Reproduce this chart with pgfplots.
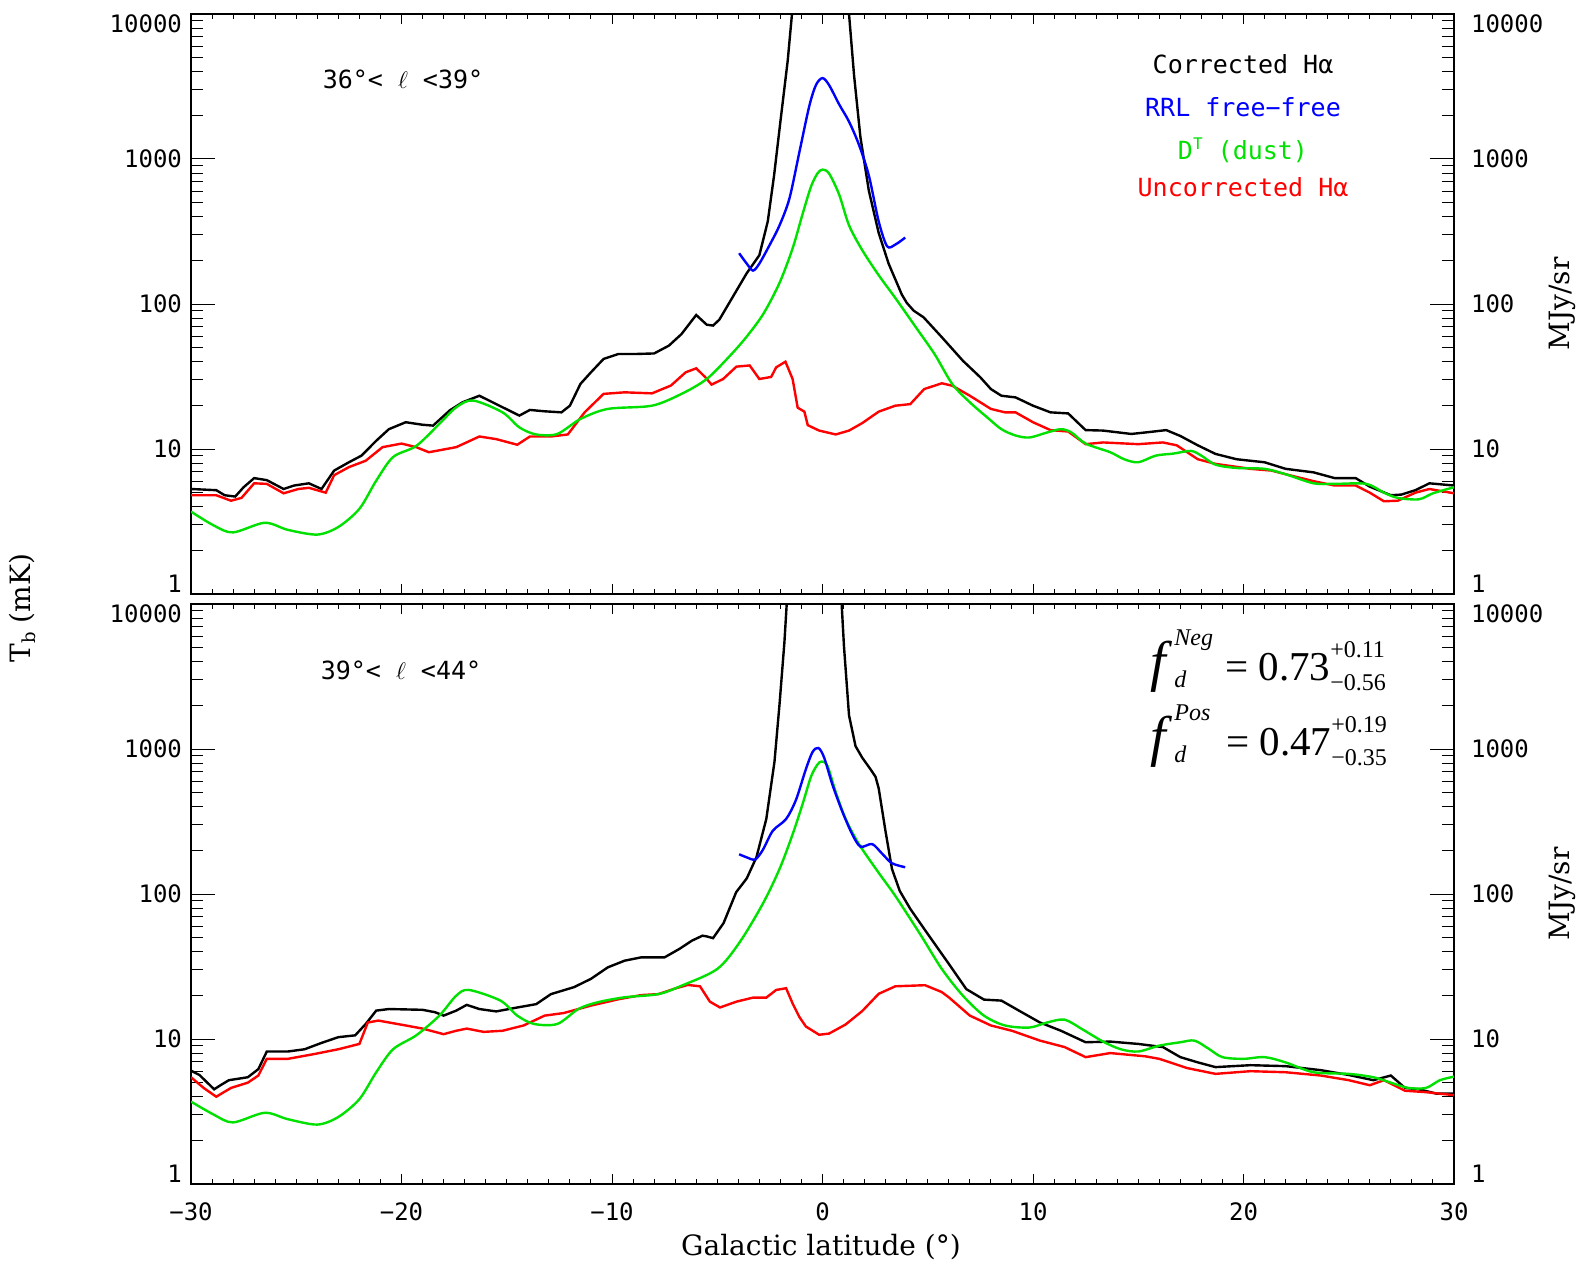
\documentclass[border=0pt]{standalone}
\usepackage{pgfplots}
\pgfplotsset{compat=1.18}
\usepackage{fontspec}
\setmainfont{DejaVu Sans Mono}
\newfontfamily\serifl{DejaVu Serif}
\newfontfamily\timesf{Liberation Serif}
\definecolor{cblue}{RGB}{0,0,255}
\definecolor{cgreen}{RGB}{0,225,0}
\definecolor{cred}{RGB}{255,0,0}
\newsavebox\supb
\newsavebox\subb
% #1 raise of sup, #2 sup, #3 drop of sub, #4 sub, #5 total width
\newcommand\supsub[5]{\sbox\supb{#2}\sbox\subb{#4}\rlap{\raisebox{#1}{\usebox\supb}}\rlap{\raisebox{-#3}{\usebox\subb}}\kern#5}
\newcommand\scr{\fontsize{12}{13}\selectfont}
\newcommand\tl{\fontsize{12}{14}\selectfont}
\pgfplotsset{
  every axis/.append style={
  scale only axis, width=631.5pt, height=290pt,
  xmin=-30, xmax=30, ymin=1, ymax=10000,
  clip mode=individual,
  xtick={-30,-20,...,30}, minor x tick num=9,
  ytick={1,10,100,1000,10000},
  minor ytick={2,3,4,5,6,7,8,9,20,30,40,50,60,70,80,90,200,300,400,500,600,700,800,900,2000,3000,4000,5000,6000,7000,8000,9000},
  yticklabels={\raisebox{5pt}[\height][\depth]{1},10,100,1000,\raisebox{-5pt}[\height][\depth]{10000}},
  xtick pos=both, ytick pos=both, xticklabel pos=lower, yticklabel pos=left,
  tick align=inside,
  axis line style={line width=0.7pt},
  every tick/.style={line width=0.5pt, black},
  yticklabel style={font=\tl, xshift=-1pt},
  xticklabel style={font=\tl, yshift=-6pt},
  every axis plot/.append style={line width=1.2pt},
  }
}
\begin{document}
\begin{tikzpicture}
\useasboundingbox (0pt,0pt) rectangle (790pt,-631pt);
% ---------------- top panel
\begin{semilogyaxis}[at={(95.5pt,-7pt)}, anchor=north west, xticklabels={},
  xtick style={/pgfplots/major tick length=5pt,/pgfplots/minor tick length=2.5pt},
  ytick style={/pgfplots/major tick length=12pt,/pgfplots/minor tick length=6pt}]
\addplot[black, sharp plot] coordinates {
(-30,5.3) (-28.8,5.2) (-28.4,4.8) (-27.9,4.7) (-27.5,5.45) (-27.0,6.3) (-26.4,6.1) (-25.6,5.3) (-25.1,5.6) (-24.4,5.8) (-23.8,5.3) (-23.2,7.1) (-22.5,8.1) (-21.9,9.0) (-21.2,11.4) (-20.6,13.7) (-19.8,15.3) (-19.0,14.7) (-18.5,14.5) (-17.7,18.5) (-17.1,21.0) (-16.3,23.3) (-15.5,20.4) (-14.4,17.0) (-13.9,18.6) (-13.2,18.2) (-12.4,17.9) (-12.0,19.9) (-11.5,28.1) (-11.0,33.8) (-10.4,41.8) (-9.7,45.2) (-8.9,45.2) (-8.0,45.6) (-7.3,51.6) (-6.7,62) (-6.0,84) (-5.5,72) (-5.2,71) (-4.9,78) (-4.2,116) (-3.6,163) (-3.0,217) (-2.6,371) (-2.3,771) (-2.0,1811) (-1.65,4800) (-1.45,10000) (-1.3,15000) (1.1,15000) (1.26,10000) (1.5,3770) (1.8,1420) (2.2,606) (2.67,309) (3.14,190) (3.77,116) (4.0,102) (4.33,90) (4.8,81) (5.67,59) (6.67,40.6) (7.5,31.2) (8.0,25.9) (8.5,23.3) (9.17,22.7) (10.0,19.9) (10.83,17.9) (11.67,17.6) (12.5,13.5) (13.33,13.4) (14.67,12.7) (15.33,13.0) (16.33,13.5) (17.0,12.3) (17.83,10.6) (18.67,9.25) (19.67,8.5) (21.0,8.1) (22.0,7.3) (23.33,6.9) (24.33,6.3) (25.33,6.3) (26.0,5.5) (27.0,4.8) (27.5,4.85) (28.17,5.2) (28.83,5.8) (30,5.6)};
\addplot[cred, sharp plot] coordinates {
(-30,4.8) (-28.8,4.8) (-28.1,4.4) (-27.6,4.6) (-27.0,5.8) (-26.4,5.75) (-25.6,4.95) (-24.9,5.3) (-24.4,5.4) (-23.6,5.0) (-23.2,6.6) (-22.5,7.5) (-21.7,8.3) (-20.9,10.3) (-20.0,10.9) (-19.3,10.3) (-18.7,9.5) (-17.4,10.3) (-16.3,12.2) (-15.5,11.7) (-14.5,10.7) (-13.9,12.2) (-12.9,12.2) (-12.1,12.6) (-11.3,17.9) (-10.4,24.0) (-9.4,24.6) (-8.1,24.2) (-7.2,27.4) (-6.5,33.8) (-6.0,36) (-5.58,31.4) (-5.27,27.8) (-4.72,30.4) (-4.09,37) (-3.46,37.7) (-3.0,30.4) (-2.44,31.4) (-2.2,36.6) (-1.76,40) (-1.42,30.4) (-1.18,19.3) (-0.86,18.1) (-0.7,14.6) (-0.16,13.4) (0.63,12.6) (1.26,13.4) (1.89,15.1) (2.67,18.1) (3.46,19.9) (4.17,20.4) (4.83,25.9) (5.67,28.4) (6.17,27.3) (7.0,23.3) (8.0,18.9) (8.67,17.9) (9.17,17.9) (10.0,15.3) (10.83,13.5) (11.67,13.2) (12.5,10.8) (13.33,11.1) (15.0,10.8) (16.17,11.1) (16.83,10.6) (17.83,8.5) (18.67,7.9) (20.33,7.3) (21.33,7.1) (22.0,6.7) (23.33,6.0) (24.33,5.6) (25.33,5.6) (26.0,5.0) (26.67,4.36) (27.33,4.4) (28.17,5.0) (28.83,5.3) (30,4.95)};
\addplot[cgreen, smooth] coordinates {
(-30,3.7) (-28.9,2.96) (-28.0,2.66) (-26.5,3.1) (-25.4,2.77) (-24.0,2.57) (-23.0,2.9) (-22.0,3.87) (-21.2,6.05) (-20.4,8.8) (-19.3,10.5) (-18.2,14.9) (-17.4,19.4) (-16.6,21.6) (-15.2,17.9) (-14.4,14.1) (-13.6,12.6) (-12.6,12.7) (-11.5,16.1) (-10.2,18.9) (-8.1,19.9) (-6.7,24) (-5.5,30.4) (-4.4,43.9) (-3.6,59.6) (-2.8,86) (-2.04,140) (-1.42,242) (-0.94,420) (-0.55,643) (-0.24,795) (0,845) (0.31,795) (0.79,569) (1.26,349) (1.89,235) (2.67,158) (3.46,110) (4.5,67) (5.33,45) (6.17,28) (7.0,21) (7.83,16.5) (8.5,13.7) (9.17,12.4) (9.83,12.0) (10.67,13.0) (11.33,13.7) (11.83,13.0) (12.5,10.9) (13.67,9.5) (14.33,8.5) (15.0,8.1) (15.83,9.0) (16.67,9.3) (17.5,9.7) (18.0,9.0) (18.67,7.8) (19.67,7.4) (21.0,7.3) (22.0,6.7) (23.33,5.8) (24.33,5.75) (25.83,5.75) (26.67,5.0) (27.33,4.6) (28.33,4.5) (29.0,4.95) (30,5.45)};
\addplot[cblue, smooth] coordinates {
(-3.96,224) (-3.6,190) (-3.3,170) (-3.0,190) (-2.5,257) (-2.04,349) (-1.57,535) (-1.1,1112) (-0.63,2311) (-0.31,3240) (0,3614) (0.31,3240) (0.79,2383) (1.26,1811) (1.73,1256) (2.2,771) (2.67,371) (3.07,250) (3.46,257) (3.93,287)};
\node[anchor=west, font=\tl, xshift=5pt, yshift=5pt] at (rel axis cs:1,0) {1};
\node[anchor=west, font=\tl, xshift=5pt] at (rel axis cs:1,0.25) {10};
\node[anchor=west, font=\tl, xshift=5pt] at (rel axis cs:1,0.5) {100};
\node[anchor=west, font=\tl, xshift=5pt] at (rel axis cs:1,0.75) {1000};
\node[anchor=west, font=\tl, xshift=5pt, yshift=-5pt] at (rel axis cs:1,1) {10000};
\end{semilogyaxis}
% ---------------- bottom panel
\begin{semilogyaxis}[at={(95.5pt,-302pt)}, anchor=north west,
  xticklabels={−30,−20,−10,0,10,20,30},
  xtick style={/pgfplots/major tick length=5pt,/pgfplots/minor tick length=2.5pt},
  ytick style={/pgfplots/major tick length=12pt,/pgfplots/minor tick length=6pt}]
\addplot[black, sharp plot] coordinates {
(-30,6.05) (-29.6,5.65) (-28.9,4.5) (-28.6,4.8) (-28.2,5.2) (-27.3,5.45) (-26.8,6.2) (-26.4,8.2) (-25.4,8.2) (-24.6,8.5) (-23.8,9.4) (-23.0,10.3) (-22.2,10.6) (-21.7,12.7) (-21.2,15.7) (-20.6,16.1) (-19.0,15.9) (-18.4,15.3) (-18.0,14.5) (-17.4,15.7) (-16.9,17.2) (-16.3,16.1) (-15.5,15.5) (-14.5,16.5) (-13.6,17.4) (-12.9,20.4) (-11.8,22.8) (-11.0,26.0) (-10.2,31.2) (-9.4,34.7) (-8.6,36.6) (-7.5,36.6) (-6.8,41.8) (-6.2,47.7) (-5.7,51.6) (-5.5,51) (-5.2,49.6) (-4.7,63) (-4.1,103) (-3.6,128) (-3.14,179) (-2.67,329) (-2.28,820) (-2.04,2046) (-1.81,5430) (-1.7,10000) (-1.6,15000) (0.8,15000) (0.91,10000) (1.02,5117) (1.26,1706) (1.57,1046) (1.89,870) (2.28,725) (2.52,643) (2.67,535) (2.99,273) (3.3,149) (3.67,105) (4.17,79) (5.0,53) (6.0,33) (6.83,22.1) (7.67,18.7) (8.5,18.4) (9.33,15.7) (10.33,13.0) (11.33,11.4) (12.5,9.5) (13.67,9.6) (15.0,9.25) (16.17,8.8) (17.0,7.5) (17.83,6.9) (18.67,6.4) (20.33,6.6) (22.0,6.5) (23.67,6.1) (25.0,5.65) (26.17,5.2) (27.0,5.6) (27.67,4.6) (28.33,4.5) (29.17,4.2) (30,4.2)};
\addplot[cred, sharp plot] coordinates {
(-30,5.45) (-29.4,4.6) (-28.8,4.0) (-28.1,4.6) (-27.3,5.0) (-26.8,5.6) (-26.4,7.3) (-25.4,7.3) (-24.1,7.9) (-23.0,8.5) (-22.0,9.25) (-21.6,13.0) (-21.1,13.4) (-19.8,12.4) (-19.0,11.8) (-18.0,10.8) (-17.4,11.4) (-16.9,11.8) (-16.1,11.2) (-15.2,11.4) (-14.2,12.4) (-13.2,14.5) (-12.3,15.1) (-11.0,17.0) (-9.7,18.8) (-8.6,20.1) (-7.8,20.4) (-7.0,22.3) (-6.4,23.6) (-5.82,23.1) (-5.35,18.1) (-4.87,16.5) (-4.09,18.1) (-3.3,19.3) (-2.67,19.3) (-2.2,21.8) (-1.73,22.4) (-1.42,17.6) (-1.1,14.2) (-0.79,12.2) (-0.16,10.7) (0.31,10.9) (1.1,12.6) (1.89,15.6) (2.67,20.5) (3.46,23.1) (4.87,23.5) (5.66,21.1) (6.0,19.4) (7.0,14.5) (8.0,12.4) (9.0,11.4) (10.33,9.75) (11.5,8.8) (12.5,7.5) (13.67,8.0) (15.33,7.6) (16.0,7.3) (17.33,6.3) (18.67,5.75) (20.33,6.0) (22.0,5.9) (23.67,5.6) (25.0,5.2) (26.0,4.8) (26.67,5.2) (27.67,4.4) (28.67,4.3) (30,4.1)};
\addplot[cgreen, smooth] coordinates {
(-30,3.7) (-28.9,3.0) (-28.0,2.66) (-26.5,3.1) (-25.4,2.8) (-24.0,2.57) (-23.0,2.9) (-22.0,3.85) (-21.2,5.9) (-20.4,8.5) (-19.3,10.6) (-18.2,14.5) (-17.4,19.9) (-16.8,21.8) (-15.3,18.4) (-14.5,14.5) (-13.7,12.7) (-12.6,12.7) (-11.6,16.1) (-10.7,17.9) (-9.4,19.4) (-7.8,20.4) (-6.7,23.3) (-5.0,30.4) (-3.93,46.6) (-2.83,86) (-2.04,149) (-1.42,258) (-0.94,420) (-0.55,643) (-0.24,781) (-0.03,820) (0.24,762) (0.63,504) (1.1,329) (1.73,221) (2.67,140) (3.46,97) (4.67,52) (5.67,30.4) (6.67,19.9) (7.67,14.5) (8.67,12.4) (9.83,12.0) (10.67,13.0) (11.5,13.6) (12.33,11.7) (13.33,9.6) (14.17,8.5) (15.0,8.2) (16.0,9.0) (17.0,9.5) (17.67,9.75) (18.33,8.6) (19.0,7.5) (20.0,7.3) (21.0,7.5) (22.0,6.9) (23.33,5.9) (25.0,5.75) (26.17,5.45) (27.0,5.0) (27.83,4.6) (28.67,4.6) (29.33,5.2) (30,5.5)};
\addplot[cblue, smooth] coordinates {
(-3.96,188) (-3.6,179) (-3.2,173) (-2.83,202) (-2.36,273) (-1.73,329) (-1.26,446) (-0.79,726) (-0.47,955) (-0.19,1016) (0.08,871) (0.47,569) (0.94,371) (1.42,257) (1.81,212) (2.36,221) (2.83,190) (3.3,163) (3.93,153)};
\node[anchor=west, font=\tl, xshift=5pt, yshift=5pt] at (rel axis cs:1,0) {1};
\node[anchor=west, font=\tl, xshift=5pt] at (rel axis cs:1,0.25) {10};
\node[anchor=west, font=\tl, xshift=5pt] at (rel axis cs:1,0.5) {100};
\node[anchor=west, font=\tl, xshift=5pt] at (rel axis cs:1,0.75) {1000};
\node[anchor=west, font=\tl, xshift=5pt, yshift=-5pt] at (rel axis cs:1,1) {10000};
\end{semilogyaxis}
% ---------------- texts
\begin{scope}[every node/.style={font=\fontsize{12.5}{15}\selectfont, inner sep=0pt}]
\node[text=black] at (621.5pt,-32.25pt) {Corrected Hα};
\node[text=cblue] at (621.5pt,-53.5pt) {RRL free−free};
\node[text=cgreen] at (621.5pt,-75pt) {D\raisebox{5pt}{\fontsize{8}{9}\selectfont T} (dust)};
\node[text=cred] at (621.5pt,-93.75pt) {Uncorrected Hα};
\node at (201.5pt,-39.5pt) {36°< $\ell$ <39°};
\node at (200.5pt,-335pt) {39°< $\ell$ <44°};
\end{scope}
\node[anchor=base west, inner sep=0pt, font=\timesf\fontsize{20.5}{24}\selectfont] at (575pt,-340pt)
 {{\fontsize{28}{28}\selectfont\textit{f}}\kern1pt\supsub{17.5pt}{\scr\textit{Neg}}{3.5pt}{\scr\textit{d}}{25.5pt}=\kern5pt0.73\supsub{11.5pt}{\scr +0.11}{5pt}{\scr −0.56}{28pt}};
\node[anchor=base west, inner sep=0pt, font=\timesf\fontsize{20.5}{24}\selectfont] at (575pt,-377.5pt)
 {{\fontsize{28}{28}\selectfont\textit{f}}\kern1pt\supsub{17.5pt}{\scr\textit{Pos}}{3.5pt}{\scr\textit{d}}{26pt}=\kern5pt0.47\supsub{11.5pt}{\scr +0.19}{5pt}{\scr −0.35}{28pt}};
\node[rotate=90, font=\serifl\fontsize{14}{16}\selectfont] at (11pt,-304pt) {T\raisebox{-2.5pt}{\fontsize{9}{10}\selectfont b} (mK)};
\node[rotate=90, font=\serifl\fontsize{14}{16}\selectfont] at (781pt,-152pt) {MJy/sr};
\node[rotate=90, font=\serifl\fontsize{14}{16}\selectfont] at (781pt,-447pt) {MJy/sr};
\node[font=\serifl\fontsize{14}{16}\selectfont] at (410.5pt,-623.5pt) {Galactic latitude (°)};
\end{tikzpicture}
\end{document}
